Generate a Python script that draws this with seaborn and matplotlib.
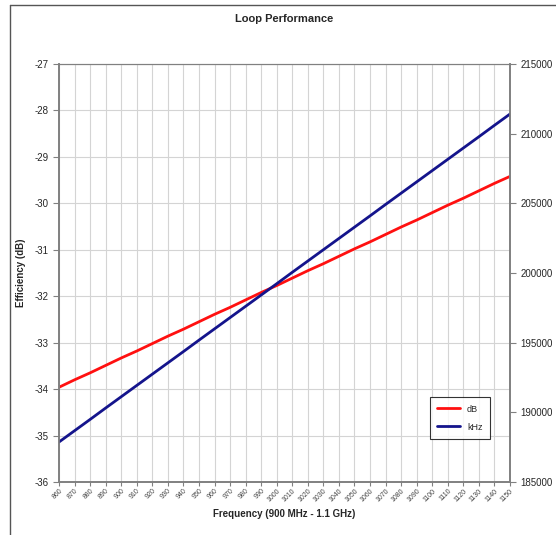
import matplotlib
matplotlib.use("Agg")
import matplotlib.pyplot as plt
import seaborn as sns
from matplotlib.lines import Line2D

# frequency in MHz
freq = [860, 870, 880, 890, 900, 910, 920, 930, 940, 950,
        960, 970, 980, 990, 1000, 1010, 1020, 1030, 1040, 1050,
        1060, 1070, 1080, 1090, 1100, 1110, 1120, 1130, 1140, 1150]

# efficiency (dB)
eff_db = [-33.96, -33.80, -33.65, -33.49, -33.33, -33.18, -33.02, -32.86, -32.71, -32.55,
          -32.39, -32.24, -32.08, -31.92, -31.77, -31.61, -31.45, -31.30, -31.14, -30.98,
          -30.83, -30.67, -30.51, -30.36, -30.20, -30.04, -29.89, -29.73, -29.57, -29.42]

# bandwidth (kHz)
bw_khz = [187870, 188680, 189490, 190310, 191120, 191930, 192740, 193550, 194360, 195180,
          195990, 196800, 197610, 198420, 199230, 200050, 200860, 201670, 202480, 203290,
          204100, 204920, 205730, 206540, 207350, 208160, 208970, 209780, 210600, 211410]

sns.set_style("white")
plt.rcParams['font.family'] = ['Liberation Sans', 'DejaVu Sans']
plt.rcParams['axes.unicode_minus'] = False

fig = plt.figure(figsize=(5.56, 5.35), dpi=100)
ax = fig.add_axes([59 / 556, 1 - 482 / 535, 451 / 556, 418 / 535])
ax2 = ax.twinx()

sns.lineplot(x=freq, y=eff_db, ax=ax, color='#ff1010', linewidth=2)
sns.lineplot(x=freq, y=bw_khz, ax=ax2, color='#14148c', linewidth=2)

ax.set_xlim(860, 1150)
ax.set_ylim(-36, -27)
ax2.set_ylim(185000, 215000)
ax.set_xticks(freq)
ax.set_xticklabels([str(f) for f in freq], rotation=45, ha='right',
                   rotation_mode='anchor', fontsize=5, color='#444444')
ax.set_yticks(range(-36, -26))
ax.tick_params(axis='y', labelsize=7, length=4, width=0.8, color='#808080', direction='out', left=True)
ax.tick_params(axis='x', length=3, width=0.8, color='#808080', direction='out', bottom=True, pad=1)
ax2.set_yticks(range(185000, 215001, 5000))
ax2.tick_params(axis='y', labelsize=7, length=4, width=0.8, color='#808080', direction='out', right=True)

ax.grid(True, color='#d4d4d4', linewidth=0.8)
ax.set_axisbelow(True)
for a in (ax, ax2):
    for s in a.spines.values():
        s.set_color('#808080')
        s.set_linewidth(1.2)
    a.spines['top'].set_linewidth(0.8)

ax.set_xlabel('Frequency (900 MHz - 1.1 GHz)', fontsize=7, fontweight='bold', labelpad=4)
ax.set_ylabel('Efficiency (dB)', fontsize=7, fontweight='bold', labelpad=6)
ax2.set_ylabel('Bandwidth (kHz)', fontsize=7, fontweight='bold', labelpad=12)
ax.set_title('Loop Performance', fontsize=8, fontweight='bold', pad=30)

handles = [Line2D([0], [0], color='#ff1010', linewidth=2),
           Line2D([0], [0], color='#14148c', linewidth=2)]
leg = ax2.legend(handles, ['dB', 'kHz'], loc='center', bbox_to_anchor=(0.889, 0.153),
                 fontsize=6.5, frameon=True, fancybox=False, handlelength=2.5,
                 borderpad=0.8, labelspacing=1.0)
leg.get_frame().set_edgecolor('black')
leg.get_frame().set_linewidth(0.8)

# chart area border
fig.add_artist(Line2D([10 / 556, 10 / 556], [0, 1 - 5 / 535], color='#555555', linewidth=1))
fig.add_artist(Line2D([10 / 556, 1], [1 - 5 / 535, 1 - 5 / 535], color='#555555', linewidth=1))

fig.savefig('out.png', dpi=100)
